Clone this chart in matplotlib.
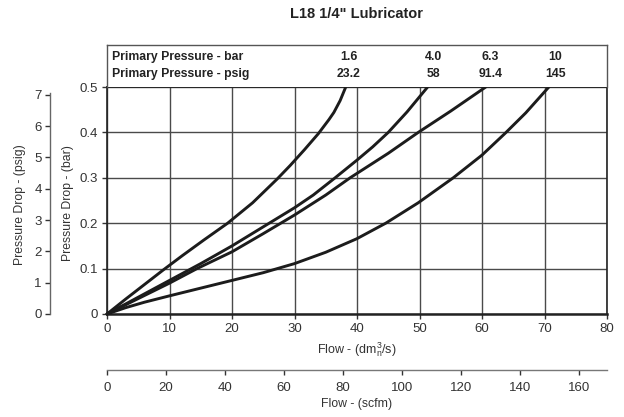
import matplotlib
matplotlib.use("Agg")
import matplotlib.pyplot as plt
import numpy as np

plt.rcParams['font.family'] = ['Liberation Sans', 'DejaVu Sans']
plt.rcParams['mathtext.fontset'] = 'custom'
plt.rcParams['mathtext.rm'] = 'Liberation Sans'
plt.rcParams['mathtext.it'] = 'Liberation Sans:italic'
plt.rcParams['mathtext.bf'] = 'Liberation Sans:bold'

# ---------------- data ----------------
title = 'L18 1/4" Lubricator'
header_rows = ['Primary Pressure - bar', 'Primary Pressure - psig']
pressures_bar = ['1.6', '4.0', '6.3', '10']
pressures_psig = ['23.2', '58', '91.4', '145']
label_pos = [38.7, 52.2, 61.3, 71.7]   # flow position of the column labels

# flow (dm3n/s) vs pressure drop (bar)
flow_16 = [0, 3, 6, 9, 12, 15.5, 19.3, 23.3, 27.2, 29.3, 31.6, 33.8, 35.5, 36.3, 37.3, 38.2]
drop_16 = [0, 0.033, 0.065, 0.097, 0.128, 0.163, 0.2, 0.245, 0.297, 0.327, 0.362, 0.397, 0.428, 0.444, 0.47, 0.5]

flow_40 = [0, 5, 10, 15, 20, 25, 30, 33, 36.5, 40, 42.5, 45, 48, 51.3]
drop_40 = [0, 0.037, 0.074, 0.111, 0.15, 0.192, 0.234, 0.262, 0.3, 0.339, 0.368, 0.4, 0.445, 0.5]

flow_63 = [0, 5, 10, 14.4, 20, 25, 30, 35, 38.9, 45, 49.8, 55, 60.6]
drop_63 = [0, 0.034, 0.068, 0.1, 0.137, 0.177, 0.218, 0.262, 0.3, 0.354, 0.4, 0.447, 0.5]

flow_10 = [0, 3, 6, 10, 15, 20, 25, 30, 35, 40, 44.6, 49.8, 55.4, 60, 63.7, 67, 70.7]
drop_10 = [0, 0.014, 0.026, 0.04, 0.057, 0.074, 0.091, 0.111, 0.136, 0.166, 0.2, 0.245, 0.3, 0.35, 0.398, 0.443, 0.5]

x_ticks = [0, 10, 20, 30, 40, 50, 60, 70, 80]
y_ticks = [0, 0.1, 0.2, 0.3, 0.4, 0.5]
psig_ticks = [0, 1, 2, 3, 4, 5, 6, 7]
scfm_ticks = [0, 20, 40, 60, 80, 100, 120, 140, 160]

BAR_TO_PSI = 14.5038
DM3S_TO_SCFM = 2.11888

# ---------------- figure ----------------
W, H = 624, 417
fig = plt.figure(figsize=(W / 100, H / 100), dpi=100)

def fx(px):
    return px / W

def fy(py):
    return 1 - py / H

left_px, right_px, top_px, bottom_px, head_top_px = 107, 607, 87, 314, 45
tick_col = '#333333'
grid_col = '#4a4a4a'
line_col = '#1c1c1c'

ax = fig.add_axes([fx(left_px), fy(bottom_px), fx(right_px - left_px), (bottom_px - top_px) / H])
ax.set_xlim(0, 80)
ax.set_ylim(0, 0.5)
ax.set_xticks(x_ticks)
ax.set_yticks(y_ticks)
ax.set_xticklabels([str(v) for v in x_ticks])
ax.set_yticklabels(['0', '0.1', '0.2', '0.3', '0.4', '0.5'])
ax.grid(True, color=grid_col, lw=1.0)
ax.set_axisbelow(True)
ax.tick_params(direction='out', length=3.5, width=1.0, colors=tick_col, labelsize=9.5, pad=3)
for s in ax.spines.values():
    s.set_color('#222222')
    s.set_linewidth(1.2)
ax.spines['bottom'].set_linewidth(1.8)

for fl, dr in [(flow_16, drop_16), (flow_40, drop_40), (flow_63, drop_63), (flow_10, drop_10)]:
    ax.plot(fl, dr, color=line_col, lw=2.1, solid_joinstyle='round', solid_capstyle='round',
            zorder=3, clip_on=False)

# header box
hx = fig.add_axes([fx(left_px), fy(top_px), fx(right_px - left_px), (top_px - head_top_px) / H])
hx.set_xlim(0, 80)
hx.set_ylim(0, 1)
hx.set_xticks([])
hx.set_yticks([])
for s in hx.spines.values():
    s.set_color('#555555')
    s.set_linewidth(1.0)
hx.spines['bottom'].set_visible(False)
hfs = 8.8
hx.text(0.8, 0.71, header_rows[0], fontsize=hfs, fontweight='bold', color='#222222', va='center', ha='left')
hx.text(0.8, 0.31, header_rows[1], fontsize=hfs, fontweight='bold', color='#222222', va='center', ha='left')
for xp, b, p in zip(label_pos, pressures_bar, pressures_psig):
    hx.text(xp, 0.71, b, fontsize=hfs, fontweight='bold', color='#222222', va='center', ha='center')
    hx.text(xp, 0.31, p, fontsize=hfs, fontweight='bold', color='#222222', va='center', ha='center')

# psig axis
ap = fig.add_axes([fx(left_px), fy(bottom_px), fx(right_px - left_px), (bottom_px - top_px) / H])
ap.patch.set_visible(False)
ap.set_ylim(0, 0.5 * BAR_TO_PSI)
ap.set_xticks([])
ap.set_yticks(psig_ticks)
for k in ['top', 'right', 'bottom']:
    ap.spines[k].set_visible(False)
ap.spines['left'].set_position(('outward', (left_px - 50) * 0.72))
ap.spines['left'].set_bounds(0, 7.05)
ap.spines['left'].set_color('#666666')
ap.spines['left'].set_linewidth(1.0)
ap.tick_params(axis='y', direction='out', length=3.5, width=1.0, colors=tick_col, labelsize=9.5, pad=2.5)

# scfm axis
scfm_y = 370
asx = fig.add_axes([fx(left_px), fy(scfm_y), fx(right_px - left_px), 0.01])
asx.patch.set_visible(False)
asx.set_xlim(0, 80 * DM3S_TO_SCFM)
asx.set_yticks([])
asx.set_xticks(scfm_ticks)
for k in ['top', 'right', 'left']:
    asx.spines[k].set_visible(False)
asx.spines['bottom'].set_color('#777777')
asx.spines['bottom'].set_linewidth(1.0)
asx.tick_params(axis='x', direction='out', length=3.5, width=1.0, colors=tick_col, labelsize=9.5, pad=5)

# labels
cx = fx((left_px + right_px) / 2)
fig.text(cx, fy(14), title, fontsize=10.5, fontweight='bold', color='#222222', ha='center', va='center')
fig.text(cx, fy(350), r'Flow - (dm$^{\mathregular{3}}_{\mathregular{n}}$/s)', fontsize=9, color=tick_col,
         ha='center', va='center')
fig.text(cx, fy(404), 'Flow - (scfm)', fontsize=8.8, color=tick_col, ha='center', va='center')
fig.text(fx(68), fy(203), 'Pressure Drop - (bar)', fontsize=8.8, color=tick_col, rotation=90,
         ha='center', va='center')
fig.text(fx(20), fy(205), 'Pressure Drop - (psig)', fontsize=8.8, color=tick_col, rotation=90,
         ha='center', va='center')

fig.savefig('out.png', dpi=100)
